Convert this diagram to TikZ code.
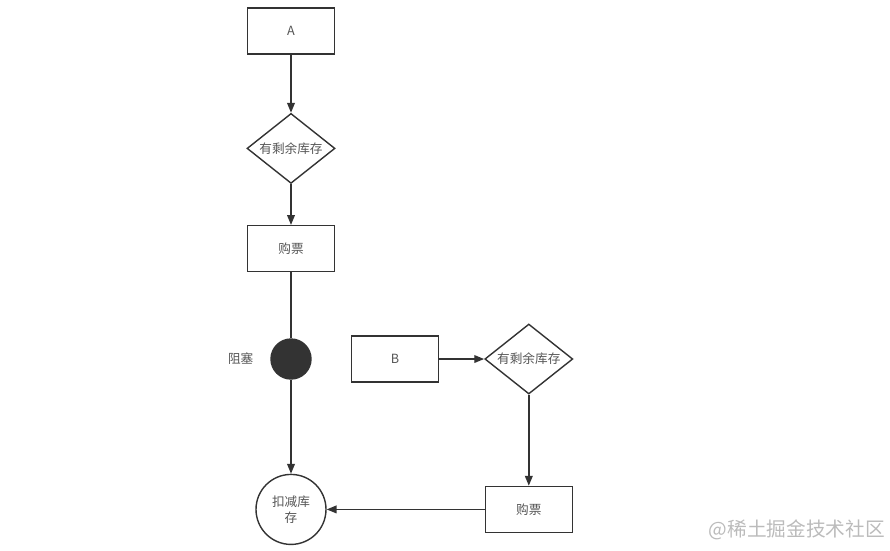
\documentclass[tikz,border=0pt]{standalone}
\usepackage{fontspec}
\setmainfont{Noto Sans CJK SC}
\usepackage{xcolor}
\usepackage{tikz}
\usetikzlibrary{shapes.geometric, arrows.meta, positioning}

\definecolor{linegray}{HTML}{333333}
\definecolor{textgray}{HTML}{555555}
\definecolor{markgray}{HTML}{BBBBBB}

\begin{document}
\begin{tikzpicture}[
    box/.style={draw=linegray, line width=1pt, minimum width=2.175cm, minimum height=1.15cm, align=center, text=textgray, font=\fontsize{9}{10}\selectfont},
    decision/.style={diamond, aspect=1.3, draw=linegray, line width=1pt, inner sep=0pt, minimum width=2.2cm, minimum height=1.75cm, align=center, text=textgray, font=\fontsize{9}{10}\selectfont},
    blocked/.style={circle, draw=linegray, fill=linegray, line width=1pt, minimum size=1cm, inner sep=0pt},
    endstate/.style={circle, draw=linegray, line width=1pt, minimum size=1.75cm, inner sep=0pt, align=center, text=textgray, font=\fontsize{9}{11.5}\selectfont},
    arrow/.style={-{Triangle[length=7pt, width=5.5pt]}, line width=1pt, draw=linegray}
]
\useasboundingbox (0,0) rectangle (22.25,-13.775);

\node[box] (a) at (7.275,-0.775) {A};
\node[decision, below=1.45cm of a] (check1) {有剩余库存};
\node[box, below=1.02cm of check1] (buy1) {购票};
\node[blocked, below=1.65cm of buy1] (wait) {};
\node[left=0.3cm of wait, text=textgray, font=\fontsize{9}{10}\selectfont] (waitlabel) {阻塞};
\node[endstate, below=2.35cm of wait] (deduct) {扣减库\\存};

\node[box, right=0.975cm of wait] (b) {B};
\node[decision, right=1.125cm of b] (check2) {有剩余库存};
\node[box] (buy2) at (check2 |- deduct) {购票};

\node[text=markgray, font=\fontsize{14}{16}\selectfont] (mark) at (19.925,-13.25) {@稀土掘金技术社区};

\draw[arrow] (a) -- (check1);
\draw[arrow] (check1) -- (buy1);
\draw[line width=1pt, draw=linegray] (buy1) -- (wait);
\draw[arrow] (wait) -- (deduct);
\draw[arrow] (b) -- (check2);
\draw[arrow] (check2) -- (buy2);
\draw[arrow] (buy2) -- (deduct);
\end{tikzpicture}
\end{document}
